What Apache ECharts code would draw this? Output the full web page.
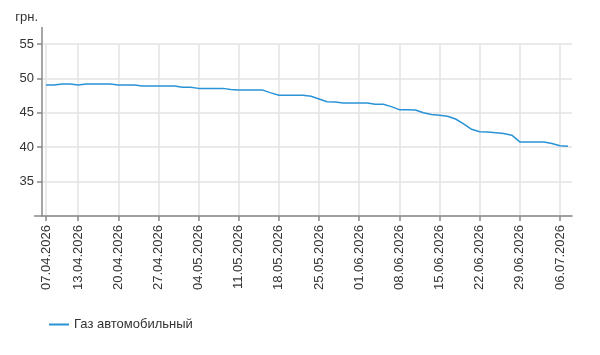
<!DOCTYPE html>
<html>
<head>
<meta charset="utf-8">
<script src="https://cdn.jsdelivr.net/npm/echarts@6/dist/echarts.min.js"></script>
<style>
html,body{margin:0;padding:0;background:#fff;}
#chart{width:600px;height:355px;}
</style>
</head>
<body>
<div id="chart"></div>
<script>
// Trading days (categories)
var dates = [
 '07.04.2026','08.04.2026','09.04.2026','10.04.2026',
 '13.04.2026','14.04.2026','15.04.2026','16.04.2026','17.04.2026',
 '20.04.2026','21.04.2026','22.04.2026','23.04.2026','24.04.2026',
 '27.04.2026','28.04.2026','29.04.2026','30.04.2026','01.05.2026',
 '04.05.2026','05.05.2026','06.05.2026','07.05.2026','08.05.2026',
 '11.05.2026','12.05.2026','13.05.2026','14.05.2026','15.05.2026',
 '18.05.2026','19.05.2026','20.05.2026','21.05.2026','22.05.2026',
 '25.05.2026','26.05.2026','27.05.2026','28.05.2026','29.05.2026',
 '01.06.2026','02.06.2026','03.06.2026','04.06.2026','05.06.2026',
 '08.06.2026','09.06.2026','10.06.2026','11.06.2026','12.06.2026',
 '15.06.2026','16.06.2026','17.06.2026','18.06.2026','19.06.2026',
 '22.06.2026','23.06.2026','24.06.2026','25.06.2026','26.06.2026',
 '29.06.2026','30.06.2026','01.07.2026','02.07.2026','03.07.2026',
 '06.07.2026','07.07.2026'
];
// Price, UAH
var gasPrices = [
 49.05,49.05,49.2,49.2,
 49.05,49.2,49.2,49.2,49.2,
 49.05,49.05,49.05,48.88,48.88,
 48.88,48.88,48.88,48.7,48.7,
 48.55,48.55,48.55,48.55,48.4,
 48.3,48.3,48.3,48.3,47.9,
 47.54,47.54,47.54,47.54,47.4,
 47.0,46.6,46.57,46.42,46.42,
 46.42,46.42,46.25,46.23,45.9,
 45.46,45.46,45.4,45.0,44.74,
 44.64,44.5,44.1,43.4,42.6,
 42.25,42.2,42.1,42.0,41.75,
 40.77,40.77,40.77,40.77,40.55,
 40.2,40.15
];
var tickLabels = ['07.04.2026','13.04.2026','20.04.2026','27.04.2026','04.05.2026','11.05.2026',
 '18.05.2026','25.05.2026','01.06.2026','08.06.2026','15.06.2026','22.06.2026','29.06.2026','06.07.2026'];
var yTicks = {min: 30, max: 55, interval: 5};
var seriesName = 'Газ автомобильный';
var unitName = 'грн.';

var showTick = function (idx, val) { return tickLabels.indexOf(val) >= 0; };
var font = 'Arial, "Liberation Sans", sans-serif';
var chart = echarts.init(document.getElementById('chart'), null, {renderer: 'canvas'});
var G = {left: 42, right: 28, top: 44, bottom: 139};
chart.setOption({
  animation: false,
  textStyle: {fontFamily: font},
  grid: {left: G.left, right: G.right, top: G.top, bottom: G.bottom, containLabel: false},
  legend: {
    left: 44, top: 313,
    itemWidth: 20, itemHeight: 10, itemGap: 10,
    icon: 'path://M0,4 L20,4 L20,6 L0,6 Z',
    textStyle: {fontSize: 13, color: '#333', fontFamily: font},
    data: [seriesName]
  },
  xAxis: {
    type: 'category',
    data: dates,
    boundaryGap: true,
    axisLine: {show: true, lineStyle: {color: '#888', width: 1.5}},
    axisTick: {show: true, alignWithLabel: true, interval: showTick, length: 5, lineStyle: {color: '#888', width: 1.5}},
    axisLabel: {interval: showTick, rotate: 90, fontSize: 13, color: '#333', margin: 9, fontFamily: font},
    splitLine: {show: true, alignWithLabel: true, interval: showTick, lineStyle: {color: '#e3e3e3', width: 1.5}}
  },
  yAxis: {
    type: 'value',
    min: yTicks.min, max: yTicks.max, interval: yTicks.interval,
    name: unitName,
    nameLocation: 'end',
    nameGap: 20,
    nameTextStyle: {fontSize: 13, color: '#333', align: 'right', padding: [0, 4, 0, 0], fontFamily: font},
    axisLine: {show: true, lineStyle: {color: '#888', width: 1.5}},
    axisTick: {show: true, length: 5, lineStyle: {color: '#888', width: 1.5}},
    axisLabel: {fontSize: 13, color: '#333', margin: 8, showMinLabel: false, fontFamily: font},
    splitLine: {show: true, lineStyle: {color: '#e3e3e3', width: 1.5}}
  },
  graphic: [
    {type: 'line', shape: {x1: G.left, y1: 27, x2: G.left, y2: G.top}, style: {stroke: '#888', lineWidth: 1.5}, silent: true},
    {type: 'line', shape: {x1: 34, y1: 355 - G.bottom, x2: G.left, y2: 355 - G.bottom}, style: {stroke: '#888', lineWidth: 1.5}, silent: true}
  ],
  series: [{
    name: seriesName,
    type: 'line',
    data: gasPrices,
    symbol: 'none',
    lineStyle: {color: '#2a93d5', width: 1.5},
    itemStyle: {color: '#2a93d5'}
  }]
});
</script>
</body>
</html>
